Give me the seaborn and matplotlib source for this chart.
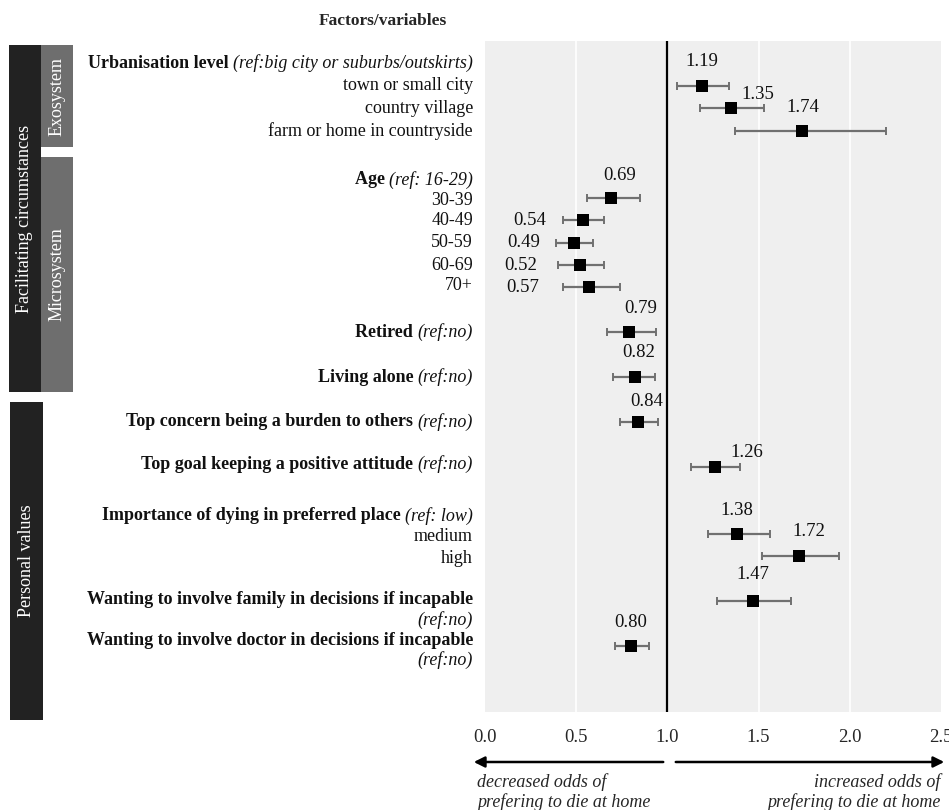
import numpy as np
import pandas as pd
import matplotlib.pyplot as plt
import matplotlib.transforms as mtransforms
from matplotlib.patches import Rectangle
import seaborn as sns

W, H = 949, 810

# odds ratios with 95% CI
items = ['town or small city', 'country village', 'farm or home in countryside',
         '30-39', '40-49', '50-59', '60-69', '70+',
         'Retired', 'Living alone', 'Top concern burden', 'Top goal positive attitude',
         'medium', 'high', 'Involve family', 'Involve doctor']
odds = [1.19, 1.35, 1.74, 0.69, 0.54, 0.49, 0.52, 0.57, 0.79, 0.82, 0.84, 1.26, 1.38, 1.72, 1.47, 0.80]
ci_low = [1.05, 1.18, 1.37, 0.56, 0.43, 0.39, 0.40, 0.43, 0.67, 0.70, 0.74, 1.13, 1.22, 1.52, 1.27, 0.71]
ci_high = [1.34, 1.53, 2.20, 0.85, 0.65, 0.59, 0.65, 0.74, 0.94, 0.93, 0.95, 1.40, 1.56, 1.94, 1.68, 0.90]
rows = [0, 1, 2, 5, 6, 7, 8, 9, 11, 13, 15, 17, 20, 21, 23, 25]

# where each value label sits relative to its marker (pixels: dx, dy up)
label_offsets = [(0, 24), (27, 14), (0, 23), (9, 22), (-54, 0), (-51, 0), (-59, 0), (-66, 0),
                 (12, 24), (4, 25), (8, 20), (32, 14), (0, 23), (10, 25), (0, 27), (0, 23)]

# left-hand variable labels: (row, [(text, style)])
var_labels = [
    (-1.0, [('Urbanisation level ', 'b'), ('(ref:big city or suburbs/outskirts)', 'i')]),
    (0.0, [('town or small city', 'r')]),
    (1.0, [('country village', 'r')]),
    (2.0, [('farm or home in countryside', 'r')]),
    (4.2, [('Age ', 'b'), ('(ref: 16-29)', 'i')]),
    (5.1, [('30-39', 'r')]),
    (6.0, [('40-49', 'r')]),
    (7.0, [('50-59', 'r')]),
    (8.0, [('60-69', 'r')]),
    (8.9, [('70+', 'r')]),
    (11.0, [('Retired ', 'b'), ('(ref:no)', 'i')]),
    (13.0, [('Living alone ', 'b'), ('(ref:no)', 'i')]),
    (15.0, [('Top concern being a burden to others ', 'b'), ('(ref:no)', 'i')]),
    (16.9, [('Top goal keeping a positive attitude ', 'b'), ('(ref:no)', 'i')]),
    (19.2, [('Importance of dying in preferred place ', 'b'), ('(ref: low)', 'i')]),
    (20.1, [('medium', 'r')]),
    (21.1, [('high', 'r')]),
    (22.95, [('Wanting to involve family in decisions if incapable', 'b')]),
    (23.85, [('(ref:no)', 'i')]),
    (24.75, [('Wanting to involve doctor in decisions if incapable', 'b')]),
    (25.65, [('(ref:no)', 'i')]),
]

df = pd.DataFrame({'item': items, 'odds': odds, 'lo': ci_low, 'hi': ci_high, 'row': rows})

sns.set_style('white', {'axes.facecolor': '#efefef'})
plt.rcParams['font.family'] = ['Liberation Serif', 'DejaVu Serif']


def fx(px):
    return px / W


def fy(py):
    return 1 - py / H


fig = plt.figure(figsize=(W / 100, H / 100), dpi=100)
ax = fig.add_axes([fx(485), fy(712), fx(941) - fx(485), fy(41) - fy(712)])

# white grid lines and the reference line at OR = 1
for g in [0.5, 1.5, 2.0]:
    ax.axvline(g, color='white', lw=1.2, zorder=0)
ax.axvline(1.0, color='black', lw=1.6, zorder=1)

ax.errorbar(df['odds'], df['row'], xerr=[df['odds'] - df['lo'], df['hi'] - df['odds']],
            fmt='none', ecolor='#707070', elinewidth=1.6, capsize=3, capthick=1.4, zorder=2)
sns.scatterplot(data=df, x='odds', y='row', marker='s', s=80, color='black',
                edgecolor='black', linewidth=0, ax=ax, zorder=3, legend=False)

for o, r, (dx, dy) in zip(odds, rows, label_offsets):
    ax.annotate(f'{o:.2f}', (o, r), xytext=(dx, dy), textcoords='offset pixels',
                ha='center', va='center', fontsize=13.5, color='#111111')

ax.set_xlim(0, 2.5)
ax.set_ylim(27.95, -2.0)
ax.set_yticks([])
ax.set_xticks([0, 0.5, 1.0, 1.5, 2.0, 2.5])
ax.set_xticklabels(['0.0', '0.5', '1.0', '1.5', '2.0', '2.5'], fontsize=13.5)
ax.tick_params(axis='x', length=0, pad=12)
ax.set_xlabel('')
ax.set_ylabel('')
sns.despine(ax=ax, left=True, bottom=True)

# variable labels, right aligned, mixed bold / italic
renderer = fig.canvas.get_renderer()
trans = mtransforms.blended_transform_factory(fig.transFigure, ax.transData)
styles = {'b': dict(fontweight='bold'), 'i': dict(fontstyle='italic'), 'r': dict()}
for r, parts in var_labels:
    x_right = 473
    for text, st in reversed(parts):
        t = fig.text(fx(x_right), r, text, transform=trans, ha='right', va='center',
                     fontsize=13, color='#111111', **styles[st])
        x_right -= t.get_window_extent(renderer).width

fig.text(fx(383), fy(21), 'Factors/variables', ha='center', va='center',
         fontsize=12.5, fontweight='bold')

# grouping bars on the left
bars = [
    (9, 45, 41, 392, '#222222', 'Facilitating circumstances'),
    (41, 45, 73, 147, '#6e6e6e', 'Exosystem'),
    (41, 157, 73, 392, '#6e6e6e', 'Microsystem'),
    (10, 402, 43, 720, '#222222', 'Personal values'),
]
for x0, y0, x1, y1, col, lab in bars:
    fig.patches.append(Rectangle((fx(x0), fy(y1)), fx(x1) - fx(x0), fy(y0) - fy(y1),
                                 transform=fig.transFigure, facecolor=col, edgecolor='none'))
    fig.text(fx((x0 + x1) / 2), fy((y0 + y1) / 2), lab, rotation=90, ha='center',
             va='center', color='white', fontsize=13)

# direction arrows below the axis
ax.annotate('', xy=(fx(471), fy(762)), xytext=(fx(666), fy(762)), xycoords='figure fraction',
            textcoords='figure fraction',
            arrowprops=dict(arrowstyle='-|>', color='black', lw=1.8, mutation_scale=16))
ax.annotate('', xy=(fx(947), fy(762)), xytext=(fx(673), fy(762)), xycoords='figure fraction',
            textcoords='figure fraction',
            arrowprops=dict(arrowstyle='-|>', color='black', lw=1.8, mutation_scale=16))

fig.text(fx(477), fy(782), 'decreased odds of', ha='left', va='center',
         fontsize=13, fontstyle='italic')
fig.text(fx(477), fy(802), 'prefering to die at home', ha='left', va='center',
         fontsize=13, fontstyle='italic')
fig.text(fx(940), fy(782), 'increased odds of', ha='right', va='center',
         fontsize=13, fontstyle='italic')
fig.text(fx(940), fy(802), 'prefering to die at home', ha='right', va='center',
         fontsize=13, fontstyle='italic')

fig.savefig('out.png', dpi=100, facecolor='white')
